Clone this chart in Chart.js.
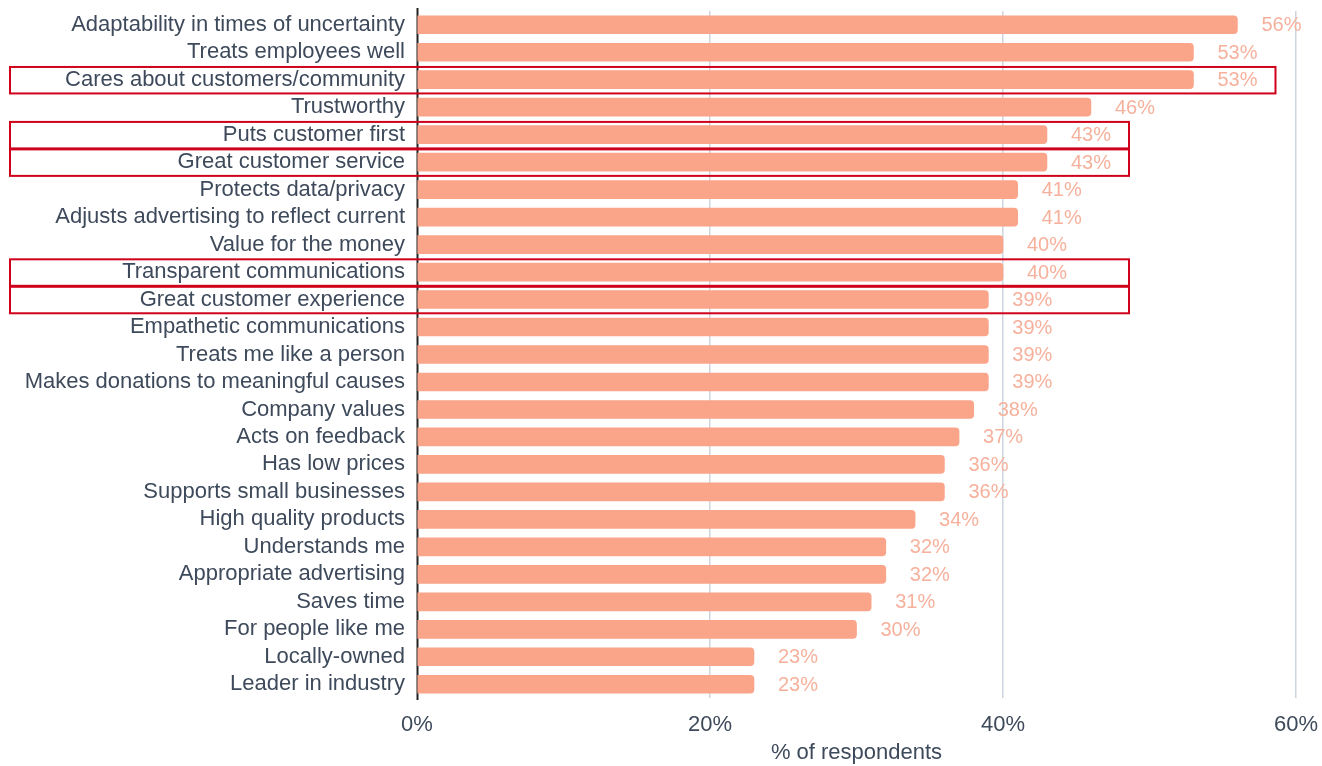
<!DOCTYPE html>
<html>
<head>
<meta charset="utf-8">
<script src="https://cdn.jsdelivr.net/npm/chart.js@4"></script>
<style>
  body { margin: 0; background: #fff; }
  #wrap { width: 1322px; height: 766px; }
</style>
</head>
<body>
<div id="wrap"><canvas id="grafico"></canvas></div>
<script>
const categorias = [
    'Adaptability in times of uncertainty',
    'Treats employees well',
    'Cares about customers/community',
    'Trustworthy',
    'Puts customer first',
    'Great customer service',
    'Protects data/privacy',
    'Adjusts advertising to reflect current',
    'Value for the money',
    'Transparent communications',
    'Great customer experience',
    'Empathetic communications',
    'Treats me like a person',
    'Makes donations to meaningful causes',
    'Company values',
    'Acts on feedback',
    'Has low prices',
    'Supports small businesses',
    'High quality products',
    'Understands me',
    'Appropriate advertising',
    'Saves time',
    'For people like me',
    'Locally-owned',
    'Leader in industry'
];

const porcentajes = [56, 53, 53, 46, 43, 43, 41, 41, 40, 40, 39, 39, 39, 39, 38, 37, 36, 36, 34, 32, 32, 31, 30, 23, 23];

const ticksX = [0, 20, 40, 60];

// filas resaltadas con recuadro rojo y hasta donde llega el recuadro (en %)
const resaltados = [2, 4, 5, 9, 10];
const finRecuadro = [58.6, 48.6, 48.6, 48.6, 48.6];

const colorBarra = '#FAA489';
const colorEtiqueta = '#F6B19D';
const colorTexto = '#3E4A5B';
const fuente = '"Liberation Sans", Arial, sans-serif';

const etiquetasValor = {
    id: 'etiquetasValor',
    afterDatasetsDraw(chart) {
        const ctx = chart.ctx;
        const meta = chart.getDatasetMeta(0);
        ctx.save();
        ctx.font = '20px ' + fuente;
        ctx.fillStyle = colorEtiqueta;
        ctx.textAlign = 'left';
        ctx.textBaseline = 'middle';
        meta.data.forEach((bar, i) => {
            ctx.fillText(porcentajes[i] + '%', bar.x + 24, bar.y + 1);
        });
        ctx.restore();
    }
};

// linea del cero, queda debajo de las barras y solo se ve entre ellas
const lineaCero = {
    id: 'lineaCero',
    beforeDatasetsDraw(chart) {
        const ctx = chart.ctx;
        const x0 = chart.scales.x.getPixelForValue(0);
        const area = chart.chartArea;
        ctx.save();
        ctx.strokeStyle = '#222';
        ctx.lineWidth = 2;
        ctx.beginPath();
        ctx.moveTo(x0 + 0.5, area.top - 3);
        ctx.lineTo(x0 + 0.5, area.bottom + 2);
        ctx.stroke();
        ctx.restore();
    }
};

const recuadros = {
    id: 'recuadros',
    afterDraw(chart) {
        const ctx = chart.ctx;
        const y = chart.scales.y;
        const x = chart.scales.x;
        const paso = y.getPixelForValue(1) - y.getPixelForValue(0);
        ctx.save();
        ctx.strokeStyle = '#D0021B';
        ctx.lineWidth = 2;
        resaltados.forEach((idx, k) => {
            const yc = y.getPixelForValue(idx);
            const x2 = x.getPixelForValue(finRecuadro[k]);
            ctx.strokeRect(10, yc - paso / 2 + 1, x2 - 10, paso - 1);
        });
        ctx.restore();
    }
};

const ctxGrafico = document.getElementById('grafico');
const miGrafico = new Chart(ctxGrafico, {
    type: 'bar',
    data: {
        labels: categorias,
        datasets: [{
            label: '% of respondents',
            data: porcentajes,
            backgroundColor: colorBarra,
            borderRadius: 4,
            borderSkipped: 'start',
            barThickness: 18
        }]
    },
    options: {
        indexAxis: 'y',
        responsive: true,
        maintainAspectRatio: false,
        animation: false,
        layout: { padding: { top: 11, right: 26, bottom: 0, left: 0 } },
        plugins: {
            legend: { display: false },
            tooltip: { enabled: false }
        },
        scales: {
            x: {
                min: 0,
                max: 60,
                afterBuildTicks(scale) {
                    scale.ticks = ticksX.map(v => ({ value: v }));
                },
                afterFit(scale) {
                    scale.height = 68;
                    scale.paddingLeft = 0;
                    scale.paddingRight = 0;
                },
                ticks: {
                    color: colorTexto,
                    font: { size: 22, family: fuente },
                    padding: 14,
                    callback: v => v + '%'
                },
                grid: {
                    color: ctx => ctx.tick.value === 0 ? 'rgba(0,0,0,0)' : '#CDD5DF',
                    lineWidth: 1.5,
                    drawTicks: false
                },
                border: { display: false },
                title: {
                    display: true,
                    text: '% of respondents',
                    color: colorTexto,
                    font: { size: 22, family: fuente },
                    padding: { top: 2, bottom: 0 }
                }
            },
            y: {
                afterFit(scale) {
                    scale.width = 417;
                    scale.paddingTop = 0;
                    scale.paddingBottom = 0;
                },
                ticks: {
                    color: colorTexto,
                    font: { size: 22, family: fuente },
                    padding: 12,
                    autoSkip: false
                },
                grid: { display: false, drawTicks: false },
                border: { display: false }
            }
        }
    },
    plugins: [lineaCero, etiquetasValor, recuadros]
});
</script>
</body>
</html>
